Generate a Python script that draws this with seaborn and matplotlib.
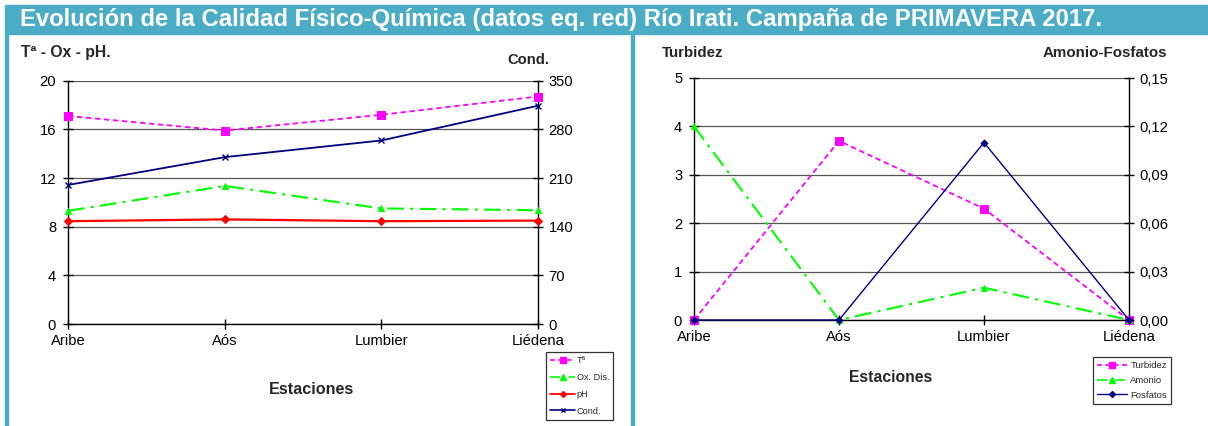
import matplotlib
matplotlib.use('Agg')
import matplotlib.pyplot as plt
import seaborn as sns
from matplotlib.lines import Line2D
from matplotlib.patches import Rectangle
from matplotlib.ticker import FuncFormatter

# ============================================================
# 0. datos
# ============================================================
estaciones = ['Aribe', 'Aós', 'Lumbier', 'Liédena']

temperatura = [17.1, 15.9, 17.2, 18.7]
oxigeno = [9.3, 11.35, 9.5, 9.35]
ph = [8.45, 8.6, 8.45, 8.5]
conductividad = [200, 240, 264, 314]

turbidez = [0.0, 3.7, 2.3, 0.0]
amonio = [0.12, 0.0, 0.02, 0.0]
fosfatos = [0.0, 0.0, 0.11, 0.0]

titulo = 'Evolución de la Calidad Físico-Química (datos eq. red) Río Irati. Campaña de PRIMAVERA 2017.'

# ============================================================
# 1. estilo
# ============================================================
sns.set_style('white')
plt.rcParams['font.family'] = ['Liberation Sans', 'DejaVu Sans']

AZUL = '#4BACC6'
MAGENTA = '#FF00FF'
VERDE = '#00FF00'
ROJO = '#FF0000'
MARINO = '#000080'
W, H = 1208, 426

fig = plt.figure(figsize=(W / 100, H / 100), dpi=100)

# banda del titulo y bordes
fig.patches.append(Rectangle((5 / W, 1 - 34 / H), 1 - 5 / W, 29 / H,
                             transform=fig.transFigure, color=AZUL, zorder=0))
fig.patches.append(Rectangle((5 / W, 0), 2.5 / W, 1 - 34 / H,
                             transform=fig.transFigure, color=AZUL, zorder=0))
fig.patches.append(Rectangle((631 / W, 0), 2.5 / W, 1 - 34 / H,
                             transform=fig.transFigure, color=AZUL, zorder=0))
fig.text(20 / W, 1 - 19.5 / H, titulo, color='white', fontsize=17.2,
         fontweight='bold', ha='left', va='center')


def preparar(ax, ymax, paso):
    ax.set_xlim(0, 3)
    ax.set_ylim(0, ymax)
    ax.set_yticks([paso * i for i in range(int(round(ymax / paso)) + 1)])
    ax.set_xticks(range(4))
    ax.set_xticklabels(estaciones)
    ax.grid(axis='y', color='#555555', lw=0.9)
    ax.grid(axis='x', visible=False)
    ax.spines['top'].set_visible(False)
    for s in ['left', 'bottom', 'right']:
        ax.spines[s].set_color('black')
        ax.spines[s].set_linewidth(1.0)
    ax.tick_params(axis='both', direction='inout', length=7, width=1,
                   labelsize=10.6, colors='black')
    ax.tick_params(axis='y', left=True, pad=5)
    ax.tick_params(axis='x', bottom=True, pad=4)
    ax.set_xlabel('')
    ax.set_ylabel('')


def estilo_twin(ax2, ymax, paso, fmt=None):
    ax2.set_ylim(0, ymax)
    ax2.set_yticks([paso * i for i in range(int(round(ymax / paso)) + 1)])
    ax2.grid(False)
    for s in ax2.spines.values():
        s.set_visible(False)
    ax2.tick_params(axis='y', right=True, direction='inout', length=7,
                    width=1, labelsize=10.6, colors='black', pad=4)
    if fmt:
        ax2.yaxis.set_major_formatter(FuncFormatter(fmt))
    ax2.set_ylabel('')


# ============================================================
# 2. panel izquierdo: Tª - Ox - pH / Cond.
# ============================================================
ax1 = fig.add_axes([68 / W, 1 - 324 / H, 470 / W, 243.3 / H])
x = list(range(len(estaciones)))
sns.lineplot(x=x, y=temperatura, ax=ax1, color=MAGENTA, lw=1.3,
             linestyle=(0, (3, 2)), marker='s', markersize=6,
             markeredgecolor=MAGENTA, clip_on=False, zorder=4)
sns.lineplot(x=x, y=oxigeno, ax=ax1, color=VERDE, lw=1.5,
             linestyle=(0, (8, 3, 1.5, 3)), marker='^', markersize=5,
             markeredgecolor=VERDE, clip_on=False, zorder=4)
sns.lineplot(x=x, y=ph, ax=ax1, color=ROJO, lw=1.6, marker='D',
             markersize=4.5, markeredgecolor=ROJO, clip_on=False, zorder=4)
preparar(ax1, 20, 4)

ax1b = ax1.twinx()
sns.lineplot(x=x, y=conductividad, ax=ax1b, color=MARINO, lw=1.3,
             marker='x', markersize=4, markeredgecolor=MARINO,
             markeredgewidth=1, clip_on=False, zorder=4)
estilo_twin(ax1b, 350, 70)
ax1b.set_xlim(0, 3)

fig.text(21 / W, 1 - 53 / H, 'Tª - Ox - pH.', fontsize=11.3, fontweight='bold',
         ha='left', va='center')
fig.text(549 / W, 1 - 60 / H, 'Cond.', fontsize=10.6, fontweight='bold',
         ha='right', va='center')
fig.text(311 / W, 1 - 389 / H, 'Estaciones', fontsize=11.6, fontweight='bold',
         ha='center', va='center')

h1 = [Line2D([], [], color=MAGENTA, lw=1.2, ls=(0, (3, 2)), marker='s', markersize=4),
      Line2D([], [], color=VERDE, lw=1.2, ls=(0, (6, 2, 1, 2)), marker='^', markersize=4),
      Line2D([], [], color=ROJO, lw=1.3, marker='D', markersize=3),
      Line2D([], [], color=MARINO, lw=1.2, marker='x', markersize=3)]
leg1 = fig.legend(h1, ['Tª', 'Ox. Dis.', 'pH', 'Cond.'],
                  loc='upper left', bbox_to_anchor=(546 / W, 1 - 352 / H),
                  fontsize=6.6, frameon=True, fancybox=False, handlelength=2.7,
                  handletextpad=0.2, labelspacing=0.85, borderpad=0.45,
                  borderaxespad=0)
leg1.get_frame().set_edgecolor('black')
leg1.get_frame().set_linewidth(0.9)

# ============================================================
# 3. panel derecho: Turbidez / Amonio-Fosfatos
# ============================================================
ax2 = fig.add_axes([694 / W, 1 - 320 / H, 435 / W, 242 / H])
sns.lineplot(x=x, y=turbidez, ax=ax2, color=MAGENTA, lw=1.3,
             linestyle=(0, (3, 2)), marker='s', markersize=6,
             markeredgecolor=MAGENTA, clip_on=False, zorder=4)
preparar(ax2, 5, 1)

ax2b = ax2.twinx()
sns.lineplot(x=x, y=amonio, ax=ax2b, color=VERDE, lw=1.5,
             linestyle=(0, (8, 3, 1.5, 3)), marker='^', markersize=5,
             markeredgecolor=VERDE, clip_on=False, zorder=4)
sns.lineplot(x=x, y=fosfatos, ax=ax2b, color=MARINO, lw=1.0, marker='D',
             markersize=3.5, markeredgecolor=MARINO, clip_on=False, zorder=5)
estilo_twin(ax2b, 0.15, 0.03, lambda v, p: f'{v:.2f}'.replace('.', ','))
ax2b.set_xlim(0, 3)

fig.text(662 / W, 1 - 53 / H, 'Turbidez', fontsize=10.9, fontweight='bold',
         ha='left', va='center')
fig.text(1167 / W, 1 - 53 / H, 'Amonio-Fosfatos', fontsize=10.9,
         fontweight='bold', ha='right', va='center')
fig.text(891 / W, 1 - 378 / H, 'Estaciones', fontsize=11.3, fontweight='bold',
         ha='center', va='center')

h2 = [Line2D([], [], color=MAGENTA, lw=1.2, ls=(0, (3, 2)), marker='s', markersize=4),
      Line2D([], [], color=VERDE, lw=1.2, ls=(0, (6, 2, 1, 2)), marker='^', markersize=4),
      Line2D([], [], color=MARINO, lw=1.0, marker='D', markersize=3)]
leg2 = fig.legend(h2, ['Turbidez', 'Amonio', 'Fosfatos'],
                  loc='upper left', bbox_to_anchor=(1093 / W, 1 - 357 / H),
                  fontsize=6.8, frameon=True, fancybox=False, handlelength=3.2,
                  handletextpad=0.3, labelspacing=0.6, borderpad=0.45,
                  borderaxespad=0)
leg2.get_frame().set_edgecolor('black')
leg2.get_frame().set_linewidth(0.9)

fig.savefig('out.png', dpi=100)
